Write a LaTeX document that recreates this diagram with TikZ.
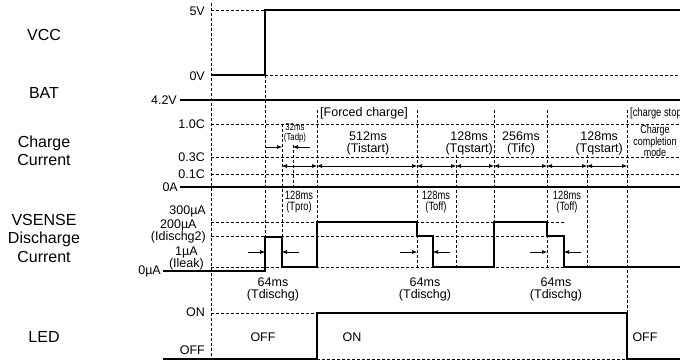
\documentclass[tikz,border=0pt]{standalone}
\usepackage{fontspec}
\setmainfont{Liberation Sans}
\newfontfamily\nfont[FakeStretch=0.78]{Liberation Sans}
\usetikzlibrary{arrows.meta}
\begin{document}
\begin{tikzpicture}[x=1pt,y=-1pt,
  sig/.style={line width=2pt},
  grd/.style={line width=0.6pt,dash pattern=on 3pt off 2pt},
  dimarr/.style={line width=0.6pt,{Latex[length=5pt,width=4pt]}-{Latex[length=5pt,width=4pt]}},
  onearr/.style={line width=0.6pt,-{Latex[length=5pt,width=4pt]}},
  lbl/.style={font=\fontsize{12.5}{14}\selectfont,inner sep=0pt},
  lblc/.style={font=\fontsize{12.5}{12}\selectfont,inner sep=0pt,align=center},
  nar/.style={font=\nfont\fontsize{12}{11.5}\selectfont,inner sep=0pt,align=center},
  nars/.style={font=\nfont\fontsize{10}{10.5}\selectfont,inner sep=0pt,align=center},
  rowlbl/.style={font=\fontsize{16}{18.5}\selectfont,inner sep=0pt,align=center}]
\useasboundingbox (0,0) rectangle (680,362);

% row labels
\node[rowlbl] (rvcc) at (44,35) {VCC};
\node[rowlbl] (rbat) at (44,93) {BAT};
\node[rowlbl] (rchg) at (44,151) {Charge\\Current};
\node[rowlbl] (rvs) at (44,238) {VSENSE\\Discharge\\Current};
\node[rowlbl] (rled) at (44,337) {LED};

% level labels
\node[lbl,anchor=east] (l5v) at (205,11) {5V};
\node[lbl,anchor=east] (l0v) at (205,76) {0V};
\node[lbl,anchor=east] (l42) at (177,100) {4.2V};
\node[lbl,anchor=east] (l10) at (205,124) {1.0C};
\node[lbl,anchor=east] (l03) at (205,157) {0.3C};
\node[lbl,anchor=east] (l01) at (205,174) {0.1C};
\node[lbl,anchor=east] (l0a) at (178,187) {0A};
\node[lbl,anchor=east] (l300) at (206,211) {300µA};
\node[lblc,anchor=east] (l200) at (206,231) {200µA\\(Idischg2)};
\node[lblc,anchor=east] (l1) at (204,258) {1µA\\(Ileak)};
\node[lbl,anchor=east] (l0u) at (161,271) {0µA};
\node[lbl,anchor=east] (lon) at (205,312) {ON};
\node[lbl,anchor=east] (loff) at (205,350) {OFF};

% dashed reference lines (horizontal)
\draw[grd] (211,10) -- (265,10);
\draw[grd] (265,75) -- (680,75);
\draw[grd] (211,124) -- (680,124);
\draw[grd] (211,157) -- (680,157);
\draw[grd] (211,174) -- (680,174);
\draw[grd] (211,222) -- (564,222);
\draw[grd] (211,236) -- (564,236);
\draw[grd] (211,267) -- (680,267);
\draw[grd] (211,313) -- (317,313);
\draw[grd] (317,359) -- (627,359);

% dashed vertical lines
\draw[grd] (211,3) -- (211,358);
\draw[grd] (265,75) -- (265,271);
\draw[grd] (282,124) -- (282,237);
\draw[grd] (293,145) -- (293,187);
\draw[grd] (317,110) -- (317,222);
\draw[grd] (417,110) -- (417,267);
\draw[grd] (456,155) -- (456,267);
\draw[grd] (494,110) -- (494,222);
\draw[grd] (547,110) -- (547,267);
\draw[grd] (587,155) -- (587,267);
\draw[grd] (627,110) -- (627,359);

% signals
\draw[sig] (211,75) -- (265,75) -- (265,10) -- (680,10);
\draw[sig] (180,100) -- (680,100);
\draw[sig] (180,187) -- (680,187);
\draw[sig] (163,271) -- (265,271) -- (265,237) -- (282,237) -- (282,267) -- (317,267)
  -- (317,222) -- (417,222) -- (417,236) -- (433,236) -- (433,267) -- (494,267)
  -- (494,222) -- (547,222) -- (547,236) -- (564,236) -- (564,267) -- (680,267);
\draw[sig] (163,359) -- (317,359) -- (317,313) -- (627,313) -- (627,359) -- (680,359);

% charge timing arrows
\draw[onearr] (265,147) -- (282,147);
\draw[onearr] (310,147) -- (293,147);
\draw[dimarr] (282,166) -- (317,166);
\draw[dimarr] (317,166) -- (417,166);
\draw[dimarr] (417,166) -- (456,166);
\draw[dimarr] (456,166) -- (494,166);
\draw[dimarr] (494,166) -- (547,166);
\draw[dimarr] (547,166) -- (587,166);
\draw[dimarr] (587,166) -- (627,166);

% discharge arrows
\draw[onearr] (248,252) -- (265,252);
\draw[onearr] (299,252) -- (282,252);
\draw[onearr] (400,252) -- (417,252);
\draw[onearr] (450,252) -- (433,252);
\draw[onearr] (530,252) -- (547,252);
\draw[onearr] (581,252) -- (564,252);

% timing texts
\node[nars] (t32) at (295,133) {32ms\\(Tadp)};
\node[lbl,anchor=west] (tfc) at (320,113) {[Forced charge]};
\node[lblc] (t512) at (368,143) {512ms\\(Tistart)};
\node[lblc,anchor=east] (tq1) at (493,143) {\hfill128ms\\(Tqstart)};
\node[lblc] (t256) at (521,143) {256ms\\(Tifc)};
\node[lblc,anchor=east] (tq2) at (623,143) {\hfill128ms\\(Tqstart)};
\node[nar,font=\nfont\fontsize{12}{12}\selectfont,anchor=west] (tcs) at (630,113) {[charge stop]};
\node[nar,font=\nfont\fontsize{11.5}{10.5}\selectfont] (tcm) at (655,141) {Charge\\completion\\mode};
\node[nar] (tpro) at (299,202) {128ms\\(Tpro)};
\node[nar] (toff1) at (436,202) {128ms\\(Toff)};
\node[nar] (toff2) at (567,202) {128ms\\(Toff)};
\node[lblc] (td1) at (273,289) {64ms\\(Tdischg)};
\node[lblc] (td2) at (425,289) {64ms\\(Tdischg)};
\node[lblc] (td3) at (556,289) {64ms\\(Tdischg)};

% LED texts
\node[lbl] (loff1) at (263,337) {OFF};
\node[lbl] (lon1) at (352,337) {ON};
\node[lbl] (loff2) at (645,337) {OFF};
\end{tikzpicture}
\end{document}
